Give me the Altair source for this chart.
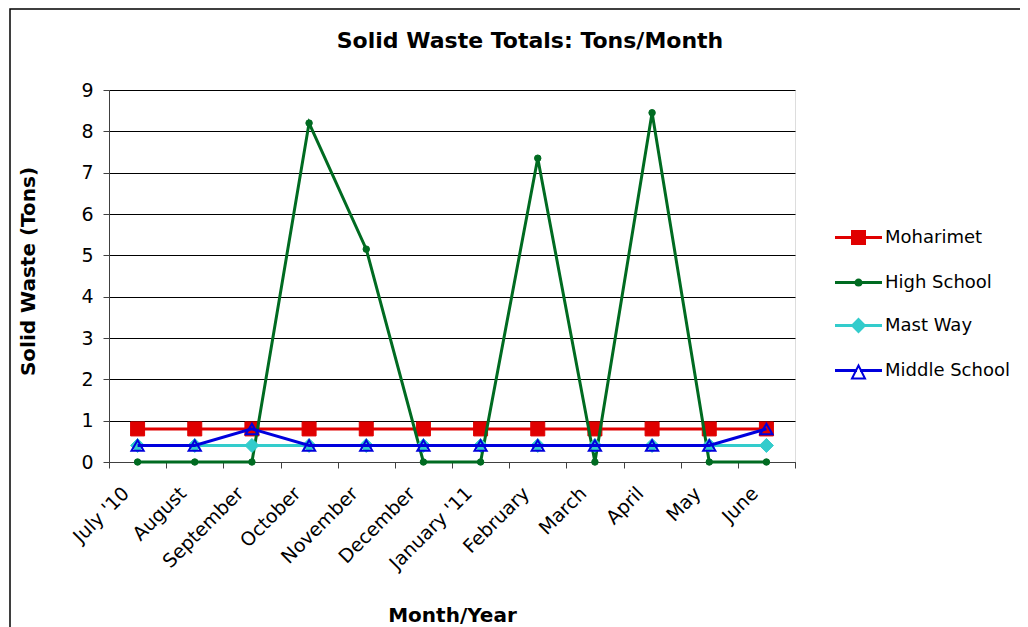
import altair as alt
import pandas as pd

months = ["July '10", "August", "September", "October", "November", "December",
          "January '11", "February", "March", "April", "May", "June"]
series_names = ["Moharimet", "High School", "Mast Way", "Middle School"]

moharimet = [0.8, 0.8, 0.8, 0.8, 0.8, 0.8, 0.8, 0.8, 0.8, 0.8, 0.8, 0.8]
high_school = [0, 0, 0, 8.2, 5.15, 0, 0, 7.35, 0, 8.45, 0, 0]
mast_way = [0.4, 0.4, 0.4, 0.4, 0.4, 0.4, 0.4, 0.4, 0.4, 0.4, 0.4, 0.4]
middle_school = [0.4, 0.4, 0.8, 0.4, 0.4, 0.4, 0.4, 0.4, 0.4, 0.4, 0.4, 0.8]

rows = []
for name, vals in zip(series_names, [moharimet, high_school, mast_way, middle_school]):
    for m, v in zip(months, vals):
        rows.append({"Month": m, "Series": name, "Tons": v})
df = pd.DataFrame(rows)

FONT = "DejaVu Sans"
line_colors = ["#E00000", "#006B21", "#33CCCC", "#0000DD"]
legend_fills = ["#E00000", "#006B21", "#33CCCC", "white"]
marker_shapes = ["square", "circle", "diamond", "triangle-up"]
marker_sizes = [196, 42, 196, 150]
marker_strokes = [1, 1, 1, 2]
marker_filled = [True, True, True, False]

legend_shapes = [
    "M-1,-0.022H1V0.022H-1Z M-0.289,-0.289H0.289V0.289H-0.289Z",
    "M-1,-0.022H1V0.022H-1Z M-0.133,0A0.133,0.133 0 1 0 0.133,0A0.133,0.133 0 1 0 -0.133,0Z",
    "M-1,-0.022H1V0.022H-1Z M0,-0.289L0.289,0L0,0.289L-0.289,0Z",
    "M-1,-0.022H-0.111V0.022H-1Z M0.111,-0.022H1V0.022H0.111Z M0,-0.222L0.289,0.356L-0.289,0.356Z",
]

x_enc = alt.X(
    "Month:N", sort=months, bandPosition=0.5,
    scale=alt.Scale(type="band", paddingInner=0, paddingOuter=0),
    axis=alt.Axis(
        title="Month/Year", grid=False, tickBand="extent", labelAngle=-45,
        labelAlign="right", labelBaseline="middle", labelFont=FONT, labelFontSize=19,
        labelColor="black", labelPadding=22, labelOffset=-12, labelOverlap=False,
        labelBound=False, tickSize=6, tickColor="#404040", domainColor="#404040",
        titleFont=FONT, titleFontSize=20, titleFontWeight="bold", titleColor="black",
        titleX=343, titleY=153, titleAlign="center", titleBaseline="middle",
    ),
)
y_enc = alt.Y(
    "Tons:Q",
    scale=alt.Scale(domain=[0, 9], nice=False, zero=True),
    axis=alt.Axis(
        title="Solid Waste (Tons)", values=list(range(10)), grid=True, gridColor="black",
        gridWidth=1, labelFont=FONT, labelFontSize=19, labelColor="black",
        labelPadding=10, tickSize=6, tickColor="#404040", domainColor="#404040",
        titleFont=FONT, titleFontSize=20, titleFontWeight="bold", titleColor="black",
        titleX=-81, titleY=181, titleAngle=-90, titleAlign="center", titleBaseline="middle",
    ),
)

base = alt.Chart(df)

layers = []
for i, name in enumerate(series_names):
    sub = base.transform_filter(alt.datum.Series == name)
    layers.append(sub.mark_line(color=line_colors[i], strokeWidth=3).encode(x=x_enc, y=y_enc))
    if marker_filled[i]:
        pt = sub.mark_point(
            shape=marker_shapes[i], size=marker_sizes[i], filled=True, fill=line_colors[i],
            stroke=line_colors[i], strokeWidth=marker_strokes[i], opacity=1,
        )
    else:
        pt = sub.mark_point(
            shape=marker_shapes[i], size=marker_sizes[i], filled=False,
            stroke=line_colors[i], strokeWidth=marker_strokes[i], opacity=1,
        )
    layers.append(pt.encode(x=x_enc, y=y_enc))

leg = alt.Legend(
    title=None, orient="none", legendX=726, legendY=124, padding=0,
    symbolSize=2025, symbolStrokeWidth=2, labelFont=FONT, labelFontSize=18,
    labelColor="black", labelOffset=3, rowPadding=10,
)

legend_layer = base.transform_filter("false").mark_point(filled=True, opacity=1, strokeWidth=2).encode(
    x=x_enc, y=y_enc,
    fill=alt.Fill("Series:N", scale=alt.Scale(domain=series_names, range=legend_fills), legend=leg),
    stroke=alt.Stroke("Series:N", scale=alt.Scale(domain=series_names, range=line_colors), legend=leg),
    shape=alt.Shape("Series:N", scale=alt.Scale(domain=series_names, range=legend_shapes), legend=leg),
)

frame = alt.Chart(alt.Data(values=[{}])).mark_rect(fill="transparent", stroke="black", strokeWidth=1.5).encode(
    x=alt.value(-99), x2=alt.value(1000), y=alt.value(-81), y2=alt.value(700),
)

chart = alt.layer(*layers, legend_layer, frame).properties(
    width=686, height=372,
    padding={"left": 101, "top": 82, "right": 225, "bottom": 165},
    autosize=alt.AutoSizeParams(type="none"),
    title=alt.TitleParams(
        "Solid Waste Totals: Tons/Month", font=FONT, fontSize=22, fontWeight="bold",
        color="black", anchor="middle", frame="group", dx=78, dy=104, offset=42,
        baseline="alphabetic",
    ),
).configure_view(
    fill="#CCCCCC", stroke="#808080", strokeWidth=1,
).configure(background="white")

chart.save("out.html", embed_options={"renderer": "svg", "actions": False})
